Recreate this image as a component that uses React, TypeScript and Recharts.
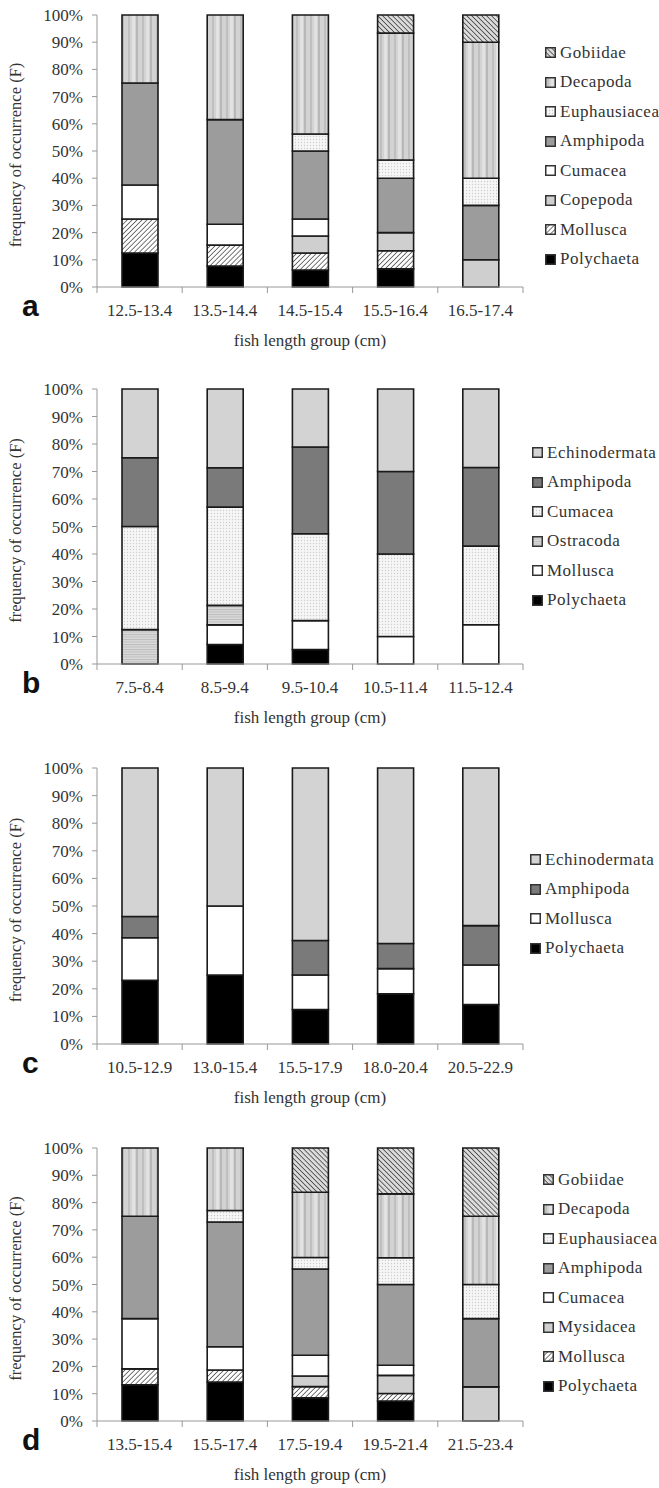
import React from 'react'
import { BarChart, Bar, XAxis, YAxis, Legend } from 'recharts'

const FONT = "'Liberation Serif', 'Times New Roman', serif"

// panel a
const groupsA = ['12.5-13.4', '13.5-14.4', '14.5-15.4', '15.5-16.4', '16.5-17.4']
const polychaetaA = [12.5, 7.7, 6.25, 6.67, 0]
const molluscaA = [12.5, 7.7, 6.25, 6.67, 0]
const copepodaA = [0, 0, 6.25, 6.67, 10]
const cumaceaA = [12.5, 7.7, 6.25, 0, 0]
const amphipodaA = [37.5, 38.5, 25, 20, 20]
const euphausiaceaA = [0, 0, 6.25, 6.67, 10]
const decapodaA = [25, 38.5, 43.75, 46.67, 50]
const gobiidaeA = [0, 0, 0, 6.67, 10]

// panel b
const groupsB = ['7.5-8.4', '8.5-9.4', '9.5-10.4', '10.5-11.4', '11.5-12.4']
const polychaetaB = [0, 7.1, 5.3, 0, 0]
const molluscaB = [0, 7.1, 10.5, 10, 14.3]
const ostracodaB = [12.5, 7.1, 0, 0, 0]
const cumaceaB = [37.5, 35.7, 31.6, 30, 28.6]
const amphipodaB = [25, 14.3, 31.6, 30, 28.6]
const echinodermataB = [25, 28.6, 21.1, 30, 28.6]

// panel c
const groupsC = ['10.5-12.9', '13.0-15.4', '15.5-17.9', '18.0-20.4', '20.5-22.9']
const polychaetaC = [23.1, 25, 12.5, 18.2, 14.3]
const molluscaC = [15.4, 25, 12.5, 9.1, 14.3]
const amphipodaC = [7.7, 0, 12.5, 9.1, 14.3]
const echinodermataC = [53.8, 50, 62.5, 63.6, 57.1]

// panel d
const groupsD = ['13.5-15.4', '15.5-17.4', '17.5-19.4', '19.5-21.4', '21.5-23.4']
const polychaetaD = [13.3, 14.3, 8.5, 7.3, 0]
const molluscaD = [5.8, 4.4, 4.1, 2.8, 0]
const mysidaceaD = [0, 0, 3.9, 6.6, 12.5]
const cumaceaD = [18.4, 8.5, 7.6, 3.7, 0]
const amphipodaD = [37.5, 45.7, 31.6, 29.6, 25]
const euphausiaceaD = [0, 4.2, 4.2, 9.8, 12.5]
const decapodaD = [25, 22.9, 23.9, 23.4, 25]
const gobiidaeD = [0, 0, 16.2, 16.8, 25]

const yTicks = [0, 0.1, 0.2, 0.3, 0.4, 0.5, 0.6, 0.7, 0.8, 0.9, 1]

type Series = { name: string; values: number[]; fill: string }

const seriesA: Series[] = [
  { name: 'Polychaeta', values: polychaetaA, fill: '#000' },
  { name: 'Mollusca', values: molluscaA, fill: 'url(#hatchFwd)' },
  { name: 'Copepoda', values: copepodaA, fill: '#cfcfcf' },
  { name: 'Cumacea', values: cumaceaA, fill: '#fff' },
  { name: 'Amphipoda', values: amphipodaA, fill: '#9c9c9c' },
  { name: 'Euphausiacea', values: euphausiaceaA, fill: 'url(#dots)' },
  { name: 'Decapoda', values: decapodaA, fill: 'url(#vstripes)' },
  { name: 'Gobiidae', values: gobiidaeA, fill: 'url(#hatchBack)' },
]

const seriesB: Series[] = [
  { name: 'Polychaeta', values: polychaetaB, fill: '#000' },
  { name: 'Mollusca', values: molluscaB, fill: '#fff' },
  { name: 'Ostracoda', values: ostracodaB, fill: 'url(#hlines)' },
  { name: 'Cumacea', values: cumaceaB, fill: 'url(#dots)' },
  { name: 'Amphipoda', values: amphipodaB, fill: '#7a7a7a' },
  { name: 'Echinodermata', values: echinodermataB, fill: '#d3d3d3' },
]

const seriesC: Series[] = [
  { name: 'Polychaeta', values: polychaetaC, fill: '#000' },
  { name: 'Mollusca', values: molluscaC, fill: '#fff' },
  { name: 'Amphipoda', values: amphipodaC, fill: '#7a7a7a' },
  { name: 'Echinodermata', values: echinodermataC, fill: '#d3d3d3' },
]

const seriesD: Series[] = [
  { name: 'Polychaeta', values: polychaetaD, fill: '#000' },
  { name: 'Mollusca', values: molluscaD, fill: 'url(#hatchFwd)' },
  { name: 'Mysidacea', values: mysidaceaD, fill: '#cfcfcf' },
  { name: 'Cumacea', values: cumaceaD, fill: '#fff' },
  { name: 'Amphipoda', values: amphipodaD, fill: '#9c9c9c' },
  { name: 'Euphausiacea', values: euphausiaceaD, fill: 'url(#dots)' },
  { name: 'Decapoda', values: decapodaD, fill: 'url(#vstripes)' },
  { name: 'Gobiidae', values: gobiidaeD, fill: 'url(#hatchBack)' },
]

const CHART_W = 659
const PLOT_LEFT = 97
const PLOT_RIGHT = 523
const TOP = 15
const XAXIS_H = 65

const panels = [
  { letter: 'a', top: 0, plotH: 272, groups: groupsA, series: seriesA, legendTop: 38, legendPad: 22 },
  { letter: 'b', top: 374, plotH: 275, groups: groupsB, series: seriesB, legendTop: 64, legendPad: 9 },
  { letter: 'c', top: 753, plotH: 276, groups: groupsC, series: seriesC, legendTop: 92, legendPad: 7 },
  { letter: 'd', top: 1133, plotH: 273, groups: groupsD, series: seriesD, legendTop: 32, legendPad: 20 },
]

function Patterns() {
  return (
    <svg width={0} height={0} style={{ position: 'absolute' }}>
      <defs>
        <pattern id="hatchFwd" width={3.5} height={3.5} patternUnits="userSpaceOnUse" patternTransform="rotate(45)">
          <rect width={3.5} height={3.5} fill="#fff" />
          <line x1={0} y1={0} x2={0} y2={3.5} stroke="#555" strokeWidth={1.6} />
        </pattern>
        <pattern id="hatchBack" width={3.5} height={3.5} patternUnits="userSpaceOnUse" patternTransform="rotate(-45)">
          <rect width={3.5} height={3.5} fill="#dcdcdc" />
          <line x1={0} y1={0} x2={0} y2={3.5} stroke="#444" strokeWidth={1.6} />
        </pattern>
        <pattern id="vstripes" width={14} height={4} patternUnits="userSpaceOnUse">
          <rect width={14} height={4} fill="#d3d3d3" />
          <rect x={2} width={2} height={4} fill="#bfbfbf" />
          <rect x={6} width={3} height={4} fill="#e2e2e2" />
          <rect x={10} width={2} height={4} fill="#b8b8b8" />
        </pattern>
        <pattern id="dots" width={3} height={3} patternUnits="userSpaceOnUse">
          <rect width={3} height={3} fill="#f6f6f6" />
          <circle cx={1.5} cy={1.5} r={0.7} fill="#cdcdcd" />
        </pattern>
        <pattern id="hlines" width={4} height={2.5} patternUnits="userSpaceOnUse">
          <rect width={4} height={2.5} fill="#dadada" />
          <rect y={0} width={4} height={1} fill="#bcbcbc" />
        </pattern>
      </defs>
    </svg>
  )
}

function LegendBox({ series, pad }: { series: Series[]; pad: number }) {
  return (
    <div style={{ paddingLeft: pad, fontFamily: FONT, fontSize: 17, color: '#333' }}>
      {[...series].reverse().map((s) => (
        <div key={s.name} style={{ height: 29.5, display: 'flex', alignItems: 'center', whiteSpace: 'nowrap' }}>
          <svg width={11} height={11} style={{ marginRight: 4, flex: 'none' }}>
            <rect x={0.75} y={0.75} width={9.5} height={9.5} fill={s.fill} stroke="#333" strokeWidth={1.5} />
          </svg>
          <span style={{ letterSpacing: 0.5 }}>{s.name}</span>
        </div>
      ))}
    </div>
  )
}

function XTick(props: any) {
  const { x, y, payload, index, band, last } = props
  return (
    <g>
      <line x1={x - band / 2} x2={x - band / 2} y1={y} y2={y + 6} stroke="#999" />
      {index === last && <line x1={x + band / 2} x2={x + band / 2} y1={y} y2={y + 6} stroke="#999" />}
      <text x={x} y={y + 29} textAnchor="middle" fontFamily={FONT} fontSize={17} fill="#333">
        {payload.value}
      </text>
    </g>
  )
}

function Panel({ p }: { p: (typeof panels)[number] }) {
  const data = p.groups.map((g, i) => {
    const row: Record<string, any> = { group: g }
    p.series.forEach((s) => (row[s.name] = s.values[i]))
    return row
  })
  const height = TOP + p.plotH + XAXIS_H
  const band = (PLOT_RIGHT - PLOT_LEFT) / p.groups.length
  const midY = TOP + p.plotH / 2 + 4

  return (
    <div style={{ position: 'absolute', left: 0, top: p.top, width: CHART_W, height }}>
      <BarChart
        width={CHART_W}
        height={height}
        data={data}
        stackOffset="expand"
        margin={{ top: TOP, right: 0, bottom: 0, left: 0 }}
      >
        <XAxis
          dataKey="group"
          height={XAXIS_H}
          interval={0}
          tickLine={false}
          tickSize={0}
          tickMargin={0}
          axisLine={{ stroke: '#999' }}
          tick={(t: any) => <XTick {...t} band={band} last={p.groups.length - 1} />}
          label={{
            value: 'fish length group (cm)',
            position: 'insideBottom',
            offset: 6,
            fontFamily: FONT,
            fontSize: 17,
            fill: '#333',
          }}
        />
        <YAxis
          width={PLOT_LEFT}
          domain={[0, 1]}
          ticks={yTicks}
          tickFormatter={(v: number) => `${Math.round(v * 100)}%`}
          tickSize={5}
          tickMargin={9}
          axisLine={{ stroke: '#999' }}
          tickLine={{ stroke: '#999' }}
          tick={{ fontFamily: FONT, fontSize: 17, fill: '#333' }}
          label={() => (
            <text
              x={21}
              y={midY}
              transform={`rotate(-90 21 ${midY})`}
              textAnchor="middle"
              fontFamily={FONT}
              fontSize={16.5}
              fill="#333"
            >
              frequency of occurrence (F)
            </text>
          )}
        />
        <Legend
          layout="vertical"
          align="right"
          verticalAlign="top"
          wrapperStyle={{ left: PLOT_RIGHT, top: p.legendTop, width: CHART_W - PLOT_RIGHT }}
          content={() => <LegendBox series={p.series} pad={p.legendPad} />}
        />
        {p.series.map((s) => (
          <Bar
            key={s.name}
            dataKey={s.name}
            stackId="s"
            fill={s.fill}
            stroke="#1a1a1a"
            strokeWidth={1.6}
            barSize={36}
            isAnimationActive={false}
          />
        ))}
      </BarChart>
      <svg width={60} height={height} style={{ position: 'absolute', left: 0, top: 0 }}>
        <text
          x={22}
          y={TOP + p.plotH + 29}
          fontFamily="'Liberation Sans', Arial, sans-serif"
          fontWeight="bold"
          fontSize={30}
          fill="#111"
        >
          {p.letter}
        </text>
      </svg>
    </div>
  )
}

export default function App() {
  return (
    <div style={{ position: 'absolute', left: 0, top: 0, width: CHART_W, height: 1488, background: '#fff' }}>
      <Patterns />
      {panels.map((p) => (
        <Panel key={p.letter} p={p} />
      ))}
    </div>
  )
}
